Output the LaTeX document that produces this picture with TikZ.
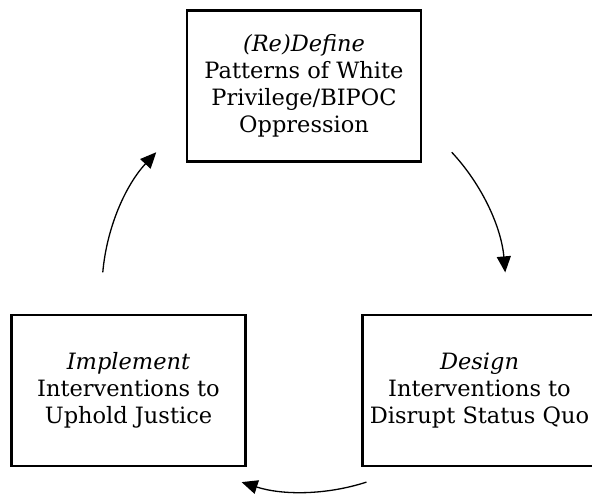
\documentclass[tikz,border=0pt]{standalone}
\usepackage{fontspec}
\setmainfont{DejaVu Serif}
\usetikzlibrary{arrows.meta}
\begin{document}
\begin{tikzpicture}[x=1pt,y=1pt,
  stagebox/.style={draw, line width=2.3pt, minimum width=234pt, minimum height=151pt,
    align=center, inner sep=0pt, font=\fontsize{22.5}{27}\selectfont},
  cyc/.style={line width=1.3pt, -{Triangle[length=16pt,width=14pt]}}]
\useasboundingbox (0,0) rectangle (592,493);
\coordinate (c) at (304,203);
\node[stagebox] (def) at (304,407) {\textit{(Re)Define}\\Patterns of White\\Privilege/BIPOC\\Oppression};
\node[stagebox] (des) at (479.5,102.5) {\textit{Design}\\Interventions to\\Disrupt Status Quo};
\node[stagebox] (imp) at (128.5,102.5) {\textit{Implement}\\Interventions to\\Uphold Justice};
\coordinate (a1) at ([shift={(43:202)}]c);
\coordinate (a2) at ([shift={(-72:202)}]c);
\coordinate (a3) at ([shift={(175:202)}]c);
\draw[cyc] (a1) arc[start angle=43, end angle=5, radius=202];
\draw[cyc] (a2) arc[start angle=-72, end angle=-108, radius=202];
\draw[cyc] (a3) arc[start angle=175, end angle=137, radius=202];
\end{tikzpicture}
\end{document}
